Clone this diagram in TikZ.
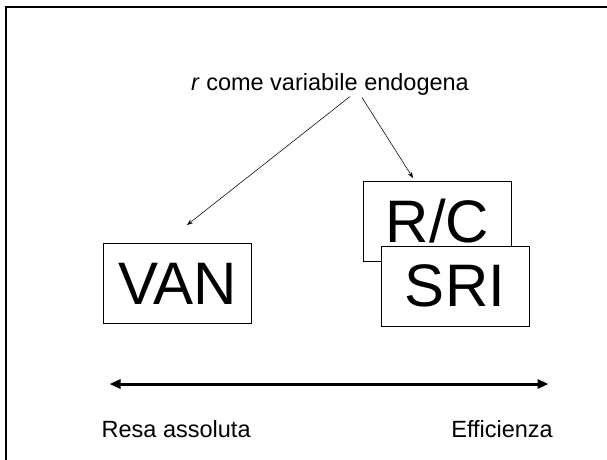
\documentclass[tikz,border=0pt]{standalone}
\usepackage{fontspec}
\setmainfont{Liberation Sans}
\usetikzlibrary{arrows.meta}
\tikzset{
  bigbox/.style={draw, line width=.9pt, fill=white, inner sep=0pt,
    minimum width=148pt, minimum height=79.5pt,
    font=\fontsize{60}{60}\selectfont},
  label/.style={inner sep=0pt, font=\fontsize{23.5}{24}\selectfont},
  thin arrow/.style={line width=.55pt, -{Stealth[length=6pt,width=4.5pt]}}
}
\begin{document}
\begin{tikzpicture}[x=1pt,y=-1pt]
   \useasboundingbox (0,0) rectangle (607,459);
   \draw[line width=2.3pt] (5.8,470) -- (5.8,6.9) -- (620,6.9);

   \node[label, anchor=base] (title) at (330,90.7) {\textit{r} come variabile endogena};

   \node[bigbox] (van) at (177.5,283.5) {VAN};
   \node[bigbox] (rc) at (437.5,221.3) {R/C};
   \node[bigbox] (sri) at (455,286.3) {SRI};

   \coordinate (vanin) at (187,225);
   \coordinate (rcin) at (413,178);
   \draw[thin arrow] (350,96.5) -- (vanin);
   \draw[thin arrow] (362,97.5) -- (rcin);

   \node[label, anchor=base west] (resa) at (101.5,437) {Resa assoluta};
   \node[label, anchor=base east] (eff) at (553,437) {Efficienza};

   \coordinate (left) at (109.5,384);
   \coordinate (right) at (548.5,384);
   \draw[line width=3pt, {Triangle[length=11pt,width=9pt]}-{Triangle[length=11pt,width=9pt]}] (left) -- (right);
\end{tikzpicture}
\end{document}
